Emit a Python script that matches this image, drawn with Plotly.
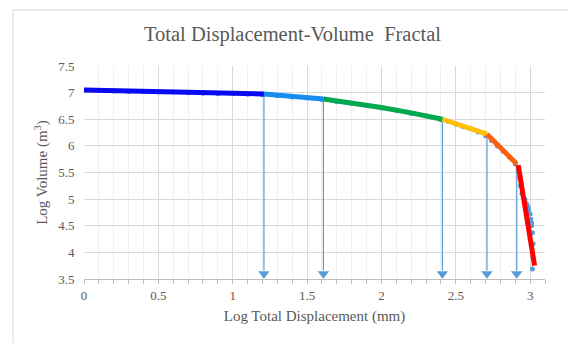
import plotly.graph_objects as go

# Fitted line segments (x, y) and colours
seg_blue_x = [0.0, 0.3, 0.6, 0.9, 1.21]
seg_blue_y = [7.05, 7.035, 7.02, 7.0, 6.975]
seg_lblue_x = [1.21, 1.4, 1.61]
seg_lblue_y = [6.975, 6.93, 6.88]
seg_green_x = [1.61, 1.8, 2.0, 2.2, 2.41]
seg_green_y = [6.88, 6.81, 6.72, 6.62, 6.5]
seg_yellow_x = [2.41, 2.55, 2.71]
seg_yellow_y = [6.5, 6.37, 6.22]
seg_orange_x = [2.71, 2.8, 2.91]
seg_orange_y = [6.22, 5.96, 5.66]
seg_red_x = [2.92, 3.03]
seg_red_y = [5.64, 3.75]

# Observed data points
pts_x = [0.0, 0.1, 0.2, 0.3, 0.4, 0.5, 0.6, 0.7, 0.8, 0.9, 1.0, 1.1, 1.2, 1.3, 1.4,
         1.5, 1.6, 1.7, 1.8, 1.9, 2.0, 2.1, 2.2, 2.3, 2.4, 2.45, 2.5, 2.55, 2.6, 2.65,
         2.7, 2.74, 2.78, 2.82, 2.86, 2.9, 2.92, 2.93, 2.935, 2.945, 2.965, 2.975,
         2.985, 2.99, 3.0, 3.005, 3.01, 3.01, 3.015, 3.02, 3.015]
pts_y = [7.04, 7.04, 7.03, 7.02, 7.02, 7.01, 7.01, 7.0, 6.99, 6.98, 6.98, 6.97, 6.96,
         6.94, 6.92, 6.9, 6.87, 6.83, 6.8, 6.76, 6.71, 6.67, 6.61, 6.56, 6.49, 6.46,
         6.41, 6.36, 6.32, 6.26, 6.19, 6.1, 6.0, 5.9, 5.79, 5.66, 5.55, 5.4, 5.25,
         5.1, 5.0, 4.92, 4.86, 4.8, 4.72, 4.62, 4.55, 4.5, 4.37, 4.16, 3.69]

# Arrows marking segment breaks
arrow_x = [1.21, 1.61, 2.41, 2.71, 2.91]
arrow_top = [6.975, 6.88, 6.5, 6.22, 5.66]
arrow_bottom = 3.6

fig = go.Figure()

fig.add_trace(go.Scatter(x=pts_x, y=pts_y, mode="markers",
                         marker=dict(color="#5B9BD5", size=5), showlegend=False))

for i, (ax, at) in enumerate(zip(arrow_x, arrow_top)):
    fig.add_trace(go.Scatter(x=[ax, ax], y=[at, arrow_bottom + 0.06], mode="lines",
                             line=dict(color="#5B9BD5", width=1.2), showlegend=False))
    fig.add_trace(go.Scatter(x=[ax], y=[arrow_bottom], mode="markers",
                             marker=dict(symbol="triangle-down", color="#5B9BD5", size=10),
                             showlegend=False))

segments = [
    (seg_blue_x, seg_blue_y, "#0A0AF0"),
    (seg_lblue_x, seg_lblue_y, "#1A8CF0"),
    (seg_green_x, seg_green_y, "#00A850"),
    (seg_yellow_x, seg_yellow_y, "#FFC000"),
    (seg_orange_x, seg_orange_y, "#FF6010"),
    (seg_red_x, seg_red_y, "#FF0000"),
]
for sx, sy, c in segments:
    fig.add_trace(go.Scatter(x=sx, y=sy, mode="lines", line=dict(color=c, width=5),
                             showlegend=False))

font_family = "Liberation Serif, Times New Roman, serif"
txt = "#595959"

fig.update_layout(
    width=568, height=343,
    margin=dict(l=84, r=23, t=66, b=64),
    paper_bgcolor="white", plot_bgcolor="white",
    font=dict(family=font_family, color=txt, size=13),
    title=dict(text="Total Displacement-Volume  Fractal", x=0.515, xanchor="center",
               y=0.9, yanchor="middle", font=dict(size=20.5, color=txt, family=font_family)),
    xaxis=dict(range=[0, 3.1], tick0=0, dtick=0.5, showgrid=True, gridcolor="#D9D9D9",
               gridwidth=1, zeroline=False, showline=True, linecolor="#BFBFBF",
               ticks="outside", ticklen=4, tickcolor="#BFBFBF",
               minor=dict(dtick=0.1, showgrid=True, gridcolor="#F0F0F0", ticks="outside",
                          ticklen=4, tickcolor="#BFBFBF"),
               title=dict(text="Log Total Displacement (mm)", font=dict(size=15, color=txt),
                          standoff=8),
               tickfont=dict(size=13, color=txt)),
    yaxis=dict(range=[3.5, 7.5], tick0=3.5, dtick=0.5, showgrid=True, gridcolor="#D9D9D9",
               zeroline=False, showline=False, ticks="outside", ticklen=6,
               tickcolor="rgba(0,0,0,0)",
               title=dict(text="Log Volume (m<sup>3</sup>)", font=dict(size=15, color=txt),
                          standoff=6),
               tickfont=dict(size=13, color=txt)),
    shapes=[
        dict(type="line", xref="paper", yref="paper", x0=-0.154, x1=1.06, y0=1.263, y1=1.263,
             line=dict(color="#D9D9D9", width=1)),
        dict(type="line", xref="paper", yref="paper", x0=-0.154, x1=-0.154, y0=1.263, y1=-0.32,
             line=dict(color="#D9D9D9", width=1)),
    ],
)

fig.write_html("out.html")
